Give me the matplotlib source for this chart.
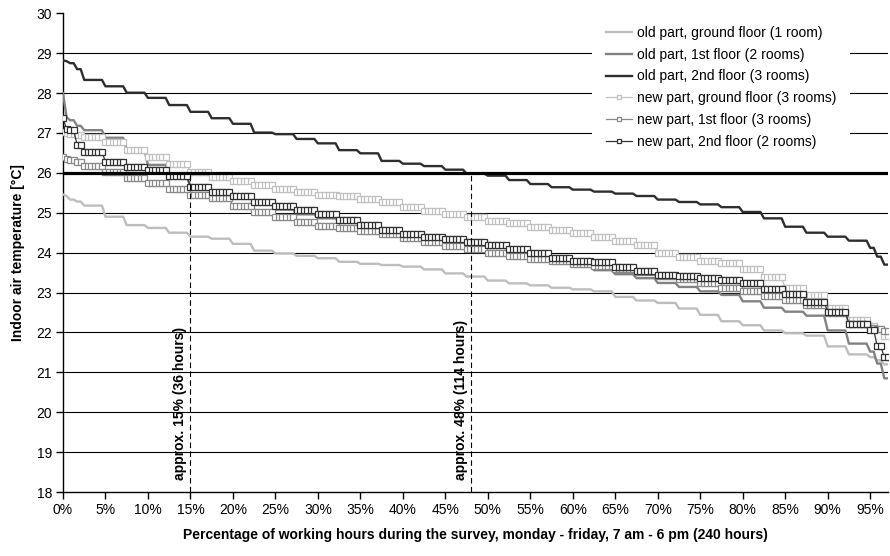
import numpy as np
import matplotlib
matplotlib.use("Agg")
import matplotlib.pyplot as plt

plt.rcParams['font.family'] = ['Liberation Sans', 'DejaVu Sans']

# ---- data (sorted hourly indoor temperatures, read as run-length blocks) ----
block_hours = [1, 1, 2, 2] + [6] * 37 + [2, 2, 2]   # hours per read value (234 hours shown)
total_hours = 240

old_ground = [25.46, 25.42, 25.33, 25.28, 25.18, 24.90, 24.69, 24.62, 24.50, 24.40, 24.35,
              24.22, 24.05, 23.98, 23.92, 23.86, 23.77, 23.72, 23.69, 23.65, 23.58, 23.48,
              23.40, 23.30, 23.23, 23.18, 23.12, 23.08, 23.03, 22.89, 22.80, 22.74, 22.60,
              22.44, 22.28, 22.18, 22.05, 21.98, 21.92, 21.65, 21.45, 21.38, 21.30, 21.20]
old_1st = [28.00, 27.40, 27.32, 27.18, 27.07, 26.88, 26.58, 26.20, 25.88, 25.68, 25.52,
           25.38, 25.22, 25.08, 24.96, 24.86, 24.76, 24.65, 24.52, 24.41, 24.30, 24.16,
           24.03, 23.97, 23.88, 23.80, 23.74, 23.66, 23.56, 23.46, 23.36, 23.24, 23.14,
           23.03, 22.94, 22.78, 22.62, 22.52, 22.42, 22.05, 21.72, 21.52, 21.22, 20.85]
old_2nd = [28.82, 28.80, 28.75, 28.60, 28.33, 28.17, 28.01, 27.88, 27.70, 27.53, 27.37,
           27.23, 27.01, 26.97, 26.85, 26.74, 26.57, 26.49, 26.30, 26.23, 26.17, 26.08,
           25.98, 25.93, 25.82, 25.72, 25.64, 25.58, 25.53, 25.48, 25.42, 25.33, 25.27,
           25.21, 25.14, 25.02, 24.86, 24.65, 24.50, 24.40, 24.30, 24.12, 23.90, 23.70]
new_ground = [27.02, 27.00, 26.98, 26.96, 26.90, 26.77, 26.57, 26.40, 26.22, 26.02, 25.89,
              25.80, 25.70, 25.60, 25.53, 25.45, 25.41, 25.34, 25.27, 25.15, 25.05, 24.96,
              24.90, 24.80, 24.74, 24.65, 24.58, 24.50, 24.39, 24.30, 24.18, 24.00, 23.89,
              23.80, 23.75, 23.60, 23.38, 23.12, 22.95, 22.62, 22.30, 22.15, 22.08, 21.92]
new_1st = [26.40, 26.36, 26.32, 26.28, 26.18, 26.02, 25.86, 25.75, 25.60, 25.45, 25.36,
           25.17, 25.03, 24.90, 24.76, 24.68, 24.61, 24.54, 24.46, 24.36, 24.27, 24.17,
           24.08, 24.00, 23.92, 23.84, 23.78, 23.72, 23.66, 23.60, 23.52, 23.42, 23.33,
           23.24, 23.12, 23.04, 22.92, 22.82, 22.68, 22.48, 22.22, 22.12, 22.08, 22.03]
new_2nd = [27.37, 27.10, 27.08, 26.70, 26.52, 26.28, 26.15, 26.08, 25.92, 25.64, 25.51,
           25.42, 25.28, 25.18, 25.06, 24.96, 24.83, 24.70, 24.57, 24.46, 24.39, 24.33,
           24.26, 24.19, 24.08, 23.98, 23.86, 23.80, 23.76, 23.64, 23.53, 23.44, 23.41,
           23.37, 23.31, 23.24, 23.10, 22.96, 22.76, 22.52, 22.22, 22.07, 21.65, 21.38]

labels = ["old part, ground floor (1 room)",
          "old part, 1st floor (2 rooms)",
          "old part, 2nd floor (3 rooms)",
          "new part, ground floor (3 rooms)",
          "new part, 1st floor (3 rooms)",
          "new part, 2nd floor (2 rooms)"]

threshold = 26
marks_pct = [15, 48]
marks_text = ["approx. 15% (36 hours)", "approx. 48% (114 hours)"]

x_ticks = list(range(0, 100, 5))
y_ticks = list(range(18, 31))

# ---- figure ----
fig = plt.figure(figsize=(8.9, 5.56), dpi=100)
ax = fig.add_axes([63 / 890, 1 - 492 / 556, (888 - 63) / 890, (492 - 13.3) / 556])

hours = np.arange(sum(block_hours))
x = hours / total_hours * 100

styles = [
    dict(color='#bdbdbd', lw=1.7),
    dict(color='#828282', lw=1.7),
    dict(color='#2e2e2e', lw=1.7),
    dict(color='#c4c4c4', lw=0.9, marker='s', ms=3.8, mfc='white', mec='#c0c0c0', mew=0.9),
    dict(color='#8a8a8a', lw=0.9, marker='s', ms=3.8, mfc='white', mec='#888888', mew=0.9),
    dict(color='#333333', lw=0.9, marker='s', ms=3.8, mfc='white', mec='#303030', mew=0.9),
]
series = [old_ground, old_1st, old_2nd, new_ground, new_1st, new_2nd]
for vals, lab, st in zip(series, labels, styles):
    y = np.repeat(vals, block_hours)
    ax.plot(x, y, label=lab, zorder=3, **st)

ax.axhline(threshold, color='black', lw=2.3, zorder=5)
for p, t in zip(marks_pct, marks_text):
    ax.plot([p, p], [18, threshold], color='black', lw=0.8, dashes=(5, 3), zorder=5)
    ax.text(p - 0.35, 18.3, t, rotation=90, ha='right', va='bottom',
            fontsize=10, fontweight='bold', zorder=6)

ax.set_xlim(0, 97.1)
ax.set_ylim(18, 30)
ax.set_xticks(x_ticks)
ax.set_xticklabels([f"{v}%" for v in x_ticks])
ax.set_yticks(y_ticks)
for yv in y_ticks[1:-1]:
    ax.axhline(yv, color='black', lw=0.8, zorder=1)

for s in ['top', 'right']:
    ax.spines[s].set_visible(False)
for s in ['left', 'bottom']:
    ax.spines[s].set_linewidth(1.0)
ax.tick_params(axis='both', direction='out', length=5, width=1, labelsize=10, pad=3)

ax.set_xlabel("Percentage of working hours during the survey, monday - friday, 7 am - 6 pm (240 hours)",
              fontsize=10, fontweight='bold', labelpad=8)
ax.set_ylabel("Indoor air temperature [°C]", fontsize=10, fontweight='bold', labelpad=8)

leg = ax.legend(loc='upper left', bbox_to_anchor=(592 / 890, 1 - 12 / 556),
                bbox_transform=fig.transFigure, fontsize=10, frameon=True,
                fancybox=False, edgecolor='none', facecolor='white', framealpha=1,
                borderpad=1.0, borderaxespad=0, handlelength=1.9, handletextpad=0.35,
                labelspacing=0.56, numpoints=1, markerscale=0.7)
leg.set_zorder(10)

fig.savefig("out.png", dpi=100)
